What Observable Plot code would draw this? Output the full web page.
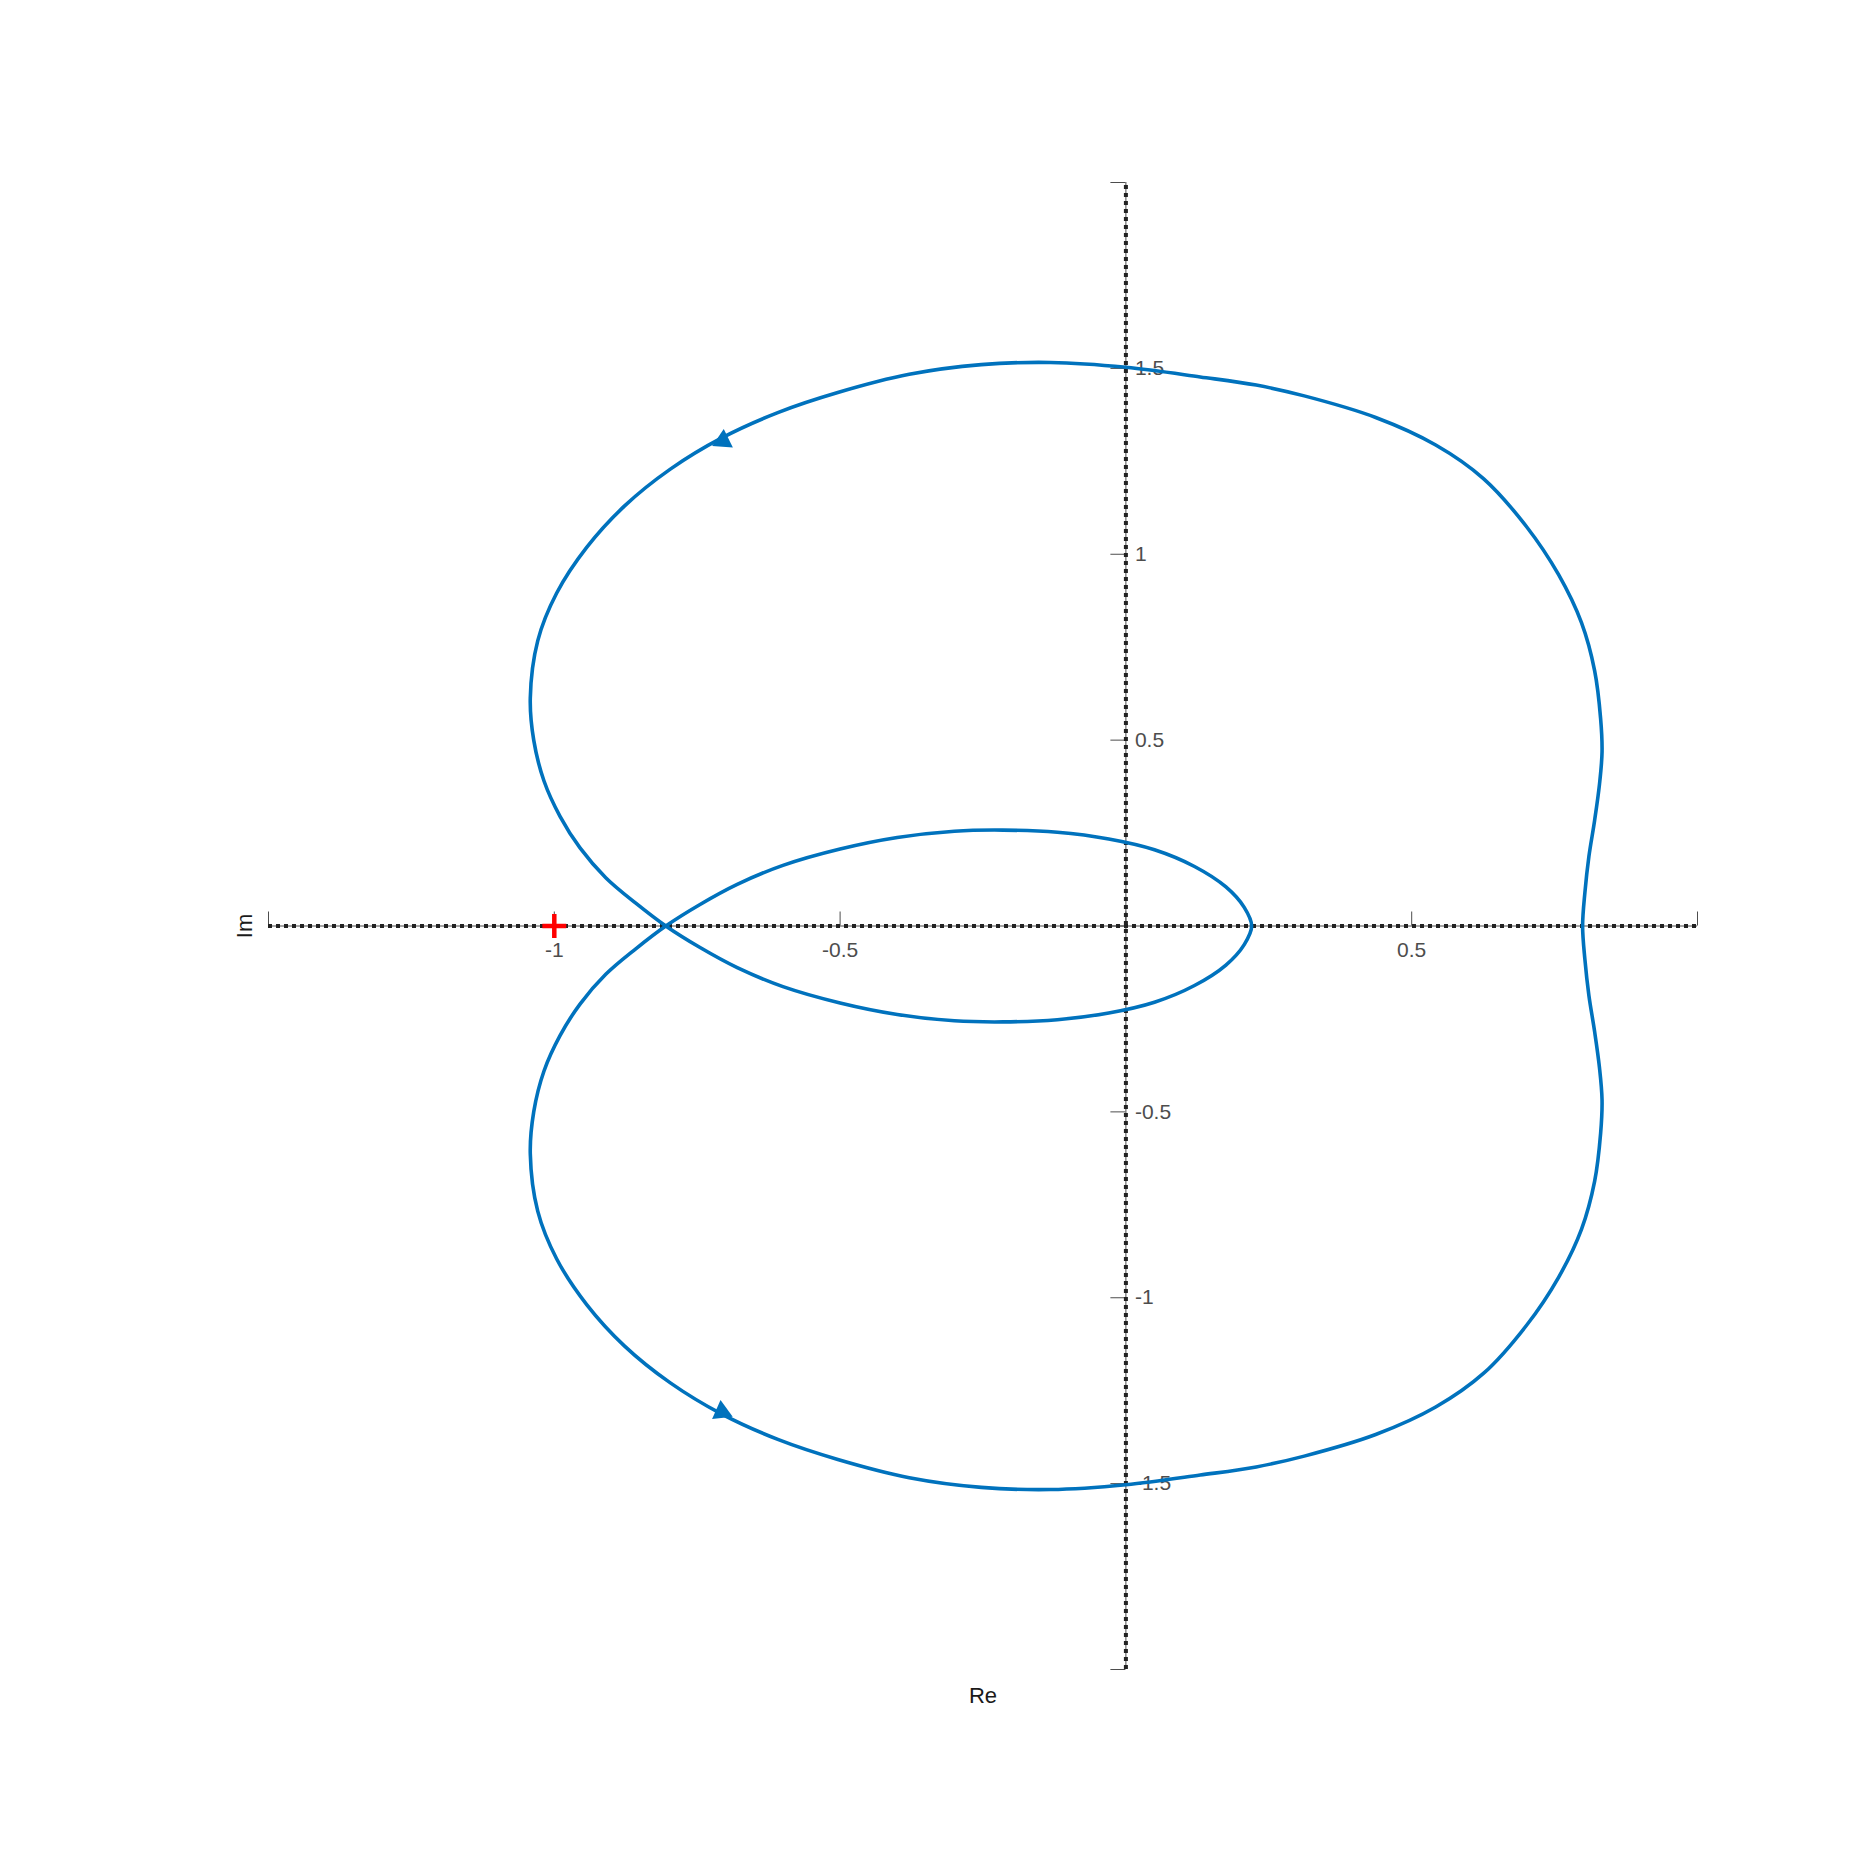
<!DOCTYPE html>
<html><head><meta charset="utf-8">
<script src="https://cdn.jsdelivr.net/npm/d3@7"></script>
<script src="https://cdn.jsdelivr.net/npm/@observablehq/plot@0.6"></script>
<style>body{margin:0;background:#fff}</style>
</head><body><div id="chart"></div>
<script>
// Positive-frequency branch, from (0.80,0) to (0.22,0)
const posRe = [0.799, 0.803, 0.810, 0.820, 0.8285, 0.833, 0.8305, 0.820, 0.797, 0.757, 0.701, 0.626, 0.542, 0.437, 0.312, 0.228, 0.130, 0.000, -0.132, -0.253, -0.379, -0.504, -0.609, -0.707, -0.797, -0.877, -0.943, -0.996, -1.029, -1.042, -1.036, -1.018, -0.990, -0.955, -0.910, -0.858, -0.805, -0.745, -0.680, -0.600, -0.500, -0.400, -0.300, -0.215, -0.120, -0.030, 0.050, 0.120, 0.175, 0.207, 0.220];
const posIm = [0.000, 0.090, 0.187, 0.284, 0.381, 0.468, 0.558, 0.687, 0.816, 0.945, 1.074, 1.203, 1.294, 1.368, 1.426, 1.455, 1.477, 1.503, 1.516, 1.510, 1.484, 1.435, 1.381, 1.313, 1.229, 1.130, 1.019, 0.895, 0.767, 0.613, 0.500, 0.390, 0.295, 0.210, 0.130, 0.062, 0.000, -0.058, -0.112, -0.163, -0.207, -0.238, -0.255, -0.258, -0.252, -0.234, -0.205, -0.160, -0.105, -0.050, 0.000];
// Negative-frequency branch, from (0.80,0) to (0.22,0)
const negRe = [0.799, 0.803, 0.810, 0.820, 0.8285, 0.833, 0.8305, 0.820, 0.797, 0.757, 0.701, 0.626, 0.542, 0.437, 0.312, 0.228, 0.130, 0.000, -0.132, -0.253, -0.379, -0.504, -0.609, -0.707, -0.797, -0.877, -0.943, -0.996, -1.029, -1.042, -1.036, -1.018, -0.990, -0.955, -0.910, -0.858, -0.805, -0.745, -0.680, -0.600, -0.500, -0.400, -0.300, -0.215, -0.120, -0.030, 0.050, 0.120, 0.175, 0.207, 0.220];
const negIm = [0.000, -0.090, -0.187, -0.284, -0.381, -0.468, -0.558, -0.687, -0.816, -0.945, -1.074, -1.203, -1.294, -1.368, -1.426, -1.455, -1.477, -1.503, -1.516, -1.510, -1.484, -1.435, -1.381, -1.313, -1.229, -1.130, -1.019, -0.895, -0.767, -0.613, -0.500, -0.390, -0.295, -0.210, -0.130, -0.062, 0.000, 0.058, 0.112, 0.163, 0.207, 0.238, 0.255, 0.258, 0.252, 0.234, 0.205, 0.160, 0.105, 0.050, 0.000];

const arrowRe = [-0.705, -0.707];
const arrowIm = [1.305, -1.307];
const arrowRot = [4, -6];

const criticalRe = [-1];
const criticalIm = [0];

const xTicks = [-1.5, -1, -0.5, 0, 0.5, 1];
const yTicks = [-2, -1.5, -1, -0.5, 0, 0.5, 1, 1.5, 2];
const xLabelVals = [-1, -0.5, 0.5];
const xLabelTexts = ["-1", "-0.5", "0.5"];
const yLabelVals = [1.5, 1, 0.5, -0.5, -1, -1.5];
const yLabelTexts = ["1.5", "1", "0.5", "-0.5", "-1", "-1.5"];
const xTitle = "Re";
const yTitle = "Im";

const pos = posRe.map((re, i) => ({re, im: posIm[i]}));
const neg = negRe.map((re, i) => ({re, im: negIm[i]}));
const loop = pos.concat(neg.slice(1, -1).reverse());
const arrows = arrowRe.map((re, i) => ({re, im: arrowIm[i], rot: arrowRot[i]}));
const critical = criticalRe.map((re, i) => ({re, im: criticalIm[i]}));

const axisColor = "#4d4d4d";
const chart = Plot.plot({
  width: 1875, height: 1875,
  marginLeft: 268, marginRight: 178, marginTop: 182, marginBottom: 206,
  x: {domain: [-1.5, 1], axis: null},
  y: {domain: [-2, 2], axis: null},
  style: {fontFamily: "'Liberation Sans', Arial, Helvetica, sans-serif", background: "white", overflow: "visible"},
  marks: [
    Plot.ruleY([0], {x1: -1.5, x2: 1, stroke: axisColor, strokeWidth: 1}),
    Plot.ruleX([0], {y1: -2, y2: 2, stroke: axisColor, strokeWidth: 1}),
    Plot.ruleX(xTicks, {x: d => d, y1: 0, y2: 0, insetTop: -14, stroke: axisColor, strokeWidth: 1}),
    Plot.ruleY(yTicks, {y: d => d, x1: 0, x2: 0, insetLeft: -15, stroke: axisColor, strokeWidth: 1}),
    Plot.text(xLabelVals, {x: d => d, y: 0, text: (d, i) => xLabelTexts[i], dy: 24, fontSize: 21, fill: axisColor, textAnchor: "middle", lineAnchor: "middle"}),
    Plot.text(yLabelVals, {x: 0, y: d => d, text: (d, i) => yLabelTexts[i], dx: 9, fontSize: 21, fill: axisColor, textAnchor: "start", lineAnchor: "middle"}),
    Plot.text([xTitle], {frameAnchor: "bottom", dy: 26, fontSize: 22, fill: "#1a1a1a", textAnchor: "middle", lineAnchor: "middle"}),
    Plot.text([yTitle], {frameAnchor: "left", dx: -24, rotate: -90, fontSize: 22, fill: "#1a1a1a", textAnchor: "middle", lineAnchor: "middle"}),
    Plot.ruleY([0], {x1: -1.5, x2: 1, stroke: "#222", strokeWidth: 4, strokeDasharray: "4,4"}),
    Plot.ruleX([0], {y1: -2, y2: 2, stroke: "#222", strokeWidth: 4, strokeDasharray: "4,4"}),
    Plot.line(loop, {x: "re", y: "im", curve: "catmull-rom-closed", stroke: "#0072BD", strokeWidth: 3.6}),
    Plot.dot(arrows, {x: "re", y: "im", symbol: "triangle", r: 7.7, fill: "#0072BD", stroke: "none", rotate: "rot"}),
    Plot.dot(critical, {x: "re", y: "im", symbol: "plus", r: 7.75, stroke: "red", strokeWidth: 4.5})
  ]
});
document.getElementById("chart").appendChild(chart);
</script>
</body></html>
